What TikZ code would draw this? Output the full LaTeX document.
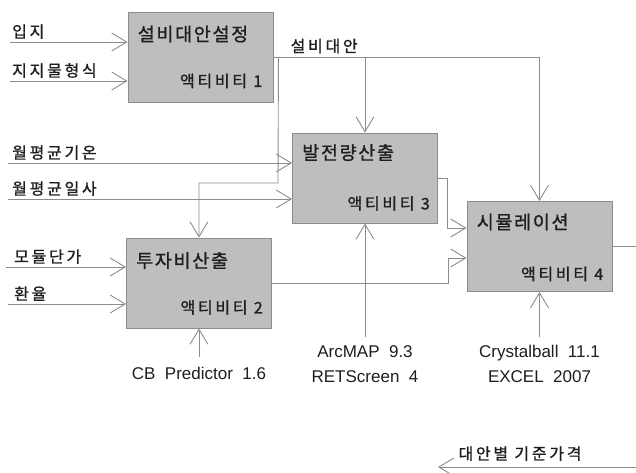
\documentclass[tikz,border=0pt]{standalone}
\usepackage{fontspec}
\usetikzlibrary{arrows.meta,positioning,calc}
\setmainfont{Liberation Sans}
\newfontfamily\kr[LetterSpace=17,FakeBold=1]{Noto Sans CJK KR}
\newfontfamily\krt[LetterSpace=9,FakeBold=1]{Noto Sans CJK KR}
\definecolor{boxgray}{RGB}{190,190,190}
\definecolor{linegray}{RGB}{140,140,140}
\definecolor{textgray}{RGB}{30,30,30}

\begin{document}
\begin{tikzpicture}[x=1pt,y=-1pt,text=textgray,
    act/.style={draw=linegray,line width=0.9pt,fill=boxgray,minimum width=145pt,minimum height=90pt,inner sep=0pt},
    ttl/.style={font=\krt\fontsize{18.5}{19}\selectfont,inner sep=0pt,anchor=west},
    num/.style={font=\kr\fontsize{16}{16}\selectfont,inner sep=0pt,anchor=east},
    inlab/.style={font=\kr\fontsize{16}{16}\selectfont,inner sep=0pt,anchor=south west},
    tool/.style={font=\fontsize{17}{25}\selectfont,align=center,inner sep=0pt,anchor=north},
    ln/.style={draw=linegray,line width=0.9pt},
    arr/.style={ln,-{Straight Barb[length=15pt,width=18pt]}}]
            \useasboundingbox (0,0) rectangle (636,472);
            % activities
            \node[act] (a1) at (200.5,57.5) {};
            \node[act] (a2) at (199,283) {};
            \node[act] (a3) at (365,178) {};
            \node[act] (a4) at (539.5,246.5) {};
            \node[ttl] (t1) at ($(a1.north west)+(10,22)$) {설비대안설정};
            \node[ttl] (t2) at ($(a2.north west)+(10,23)$) {투자비산출};
            \node[ttl] (t3) at ($(a3.north west)+(10,20)$) {발전량산출};
            \node[ttl] (t4) at ($(a4.north west)+(10,21)$) {시뮬레이션};
            \node[num] (n1) at ($(a1.south east)+(-11,-22)$) {액티비티 1};
            \node[num] (n2) at ($(a2.south east)+(-9,-21)$) {액티비티 2};
            \node[num] (n3) at ($(a3.south east)+(-8,-20)$) {액티비티 3};
            \node[num] (n4) at ($(a4.south east)+(-9,-18)$) {액티비티 4};
            % inputs
            \coordinate (i1) at (10,42);
            \coordinate (i2) at (10,81);
            \coordinate (i3) at (8,163);
            \coordinate (i4) at (8,199);
            \coordinate (i5) at (6,267);
            \coordinate (i6) at (8,304);
            \draw[arr] (i1) -- (i1 -| a1.west);
            \draw[arr] (i2) -- (i2 -| a1.west);
            \draw[arr] (i3) -- (i3 -| a3.west);
            \draw[arr] (i4) -- (i4 -| a3.west);
            \draw[arr] (i5) -- (i5 -| a2.west);
            \draw[arr] (i6) -- (i6 -| a2.west);
            \node[inlab] (l1) at ($(i1)+(2,-3)$) {입지};
            \node[inlab] (l2) at ($(i2)+(2,-3)$) {지지물형식};
            \node[inlab] (l3) at ($(i3)+(4,-3)$) {월평균기온};
            \node[inlab] (l4) at ($(i4)+(4,-3)$) {월평균일사};
            \node[inlab] (l5) at ($(i5)+(8,-3)$) {모듈단가};
            \node[inlab] (l6) at ($(i6)+(6,-3)$) {환율};
            % alternatives
            \coordinate (split) at ($(a1.east)+(5,0)$);
            \draw[ln] (a1.east) -- (split);
            \draw[arr] (split) -- (a4.north |- split) -- (a4.north);
            \draw[arr] (a3.north |- split) -- (a3.north);
            \draw[arr] (split) -- (278,183) -- (a2.north |- 0,183) -- (a2.north);
            \node[inlab] (alt) at ($(split)+(12,-4)$) {설비대안};
            % results
            \draw[arr] (a3.east) -- (447,178) -- (447,228) -- (a4.west |- 0,228);
            \draw[arr] (a2.east) -- (448,283) -- (448,258) -- (a4.west |- 0,258);
            \draw[ln] (a4.east) -- (636,246.5);
            \coordinate (o1) at (636,467);
            \coordinate (o2) at (438,467);
            \draw[arr] (o1) -- (o2);
            \node[font=\kr\fontsize{16}{16}\selectfont,inner sep=0pt,anchor=south] (out) at (520,461) {대안별 기준가격};
            % tools
            \coordinate (m2) at (a2.south |- 0,357);
            \coordinate (m3) at (a3.south |- 0,337);
            \coordinate (m4) at (a4.south |- 0,337);
            \draw[arr] (m2) -- (a2.south);
            \draw[arr] (m3) -- (a3.south);
            \draw[arr] (m4) -- (a4.south);
            \node[tool] (c2) at ($(m2)+(0,10)$) {CB~~Predictor~~1.6};
            \node[tool] (c3) at ($(m3)+(0,8)$) {ArcMAP~~9.3\\RETScreen~~4};
            \node[tool] (c4) at ($(m4)+(0,8)$) {Crystalball~~11.1\\EXCEL~~2007};
        \end{tikzpicture}
\end{document}
